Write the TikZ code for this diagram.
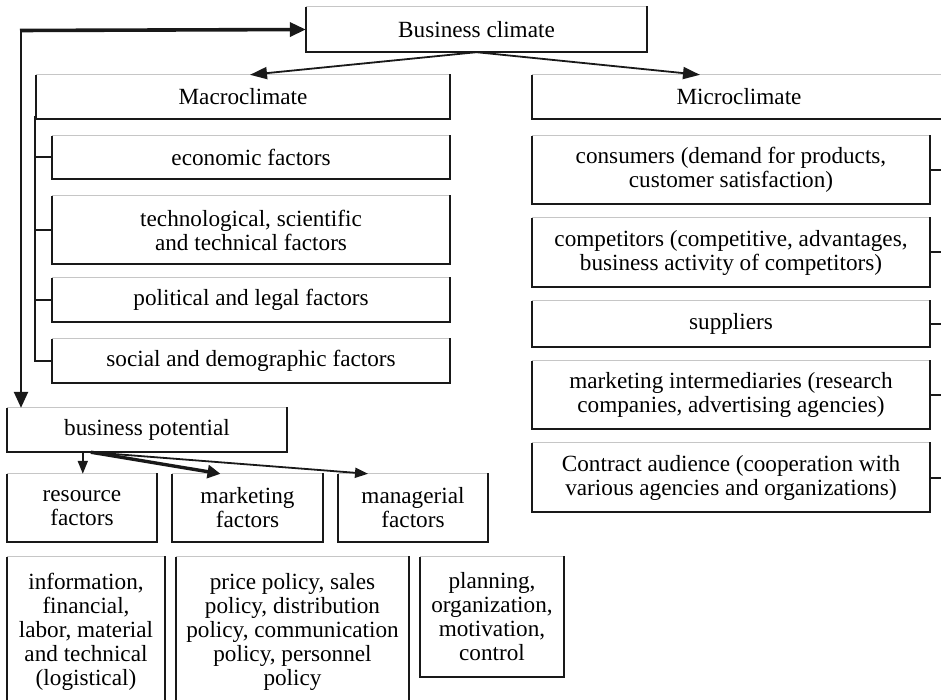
\documentclass[tikz,border=0pt]{standalone}
\usepackage{fontspec}
\setmainfont{Liberation Serif}
\usetikzlibrary{arrows.meta}
\newcommand\mkbox[6]{\node[bx, minimum width={#4-#2}, minimum height={#5-#3}] (#1) at ({(#2+#4)/2},{(#3+#5)/2}) {#6};}
\newcommand\edges[1]{%
  \draw[gray!45, line width=1.1pt] (#1.north west) -- (#1.north east);
  \draw[black!90, line width=1.8pt] (#1.north west) -- (#1.south west) -- (#1.south east);
  \draw[black!90, line width=2.3pt, line cap=rect] (#1.south east) -- (#1.north east);}
\begin{document}
\begin{tikzpicture}[x=1pt,y=-1pt,
  bx/.style={inner sep=0pt, align=center, font=\fontsize{23.2}{24}\selectfont},
  tick/.style={black!90, line width=2pt},
  arr/.style={black!90, line width=1.8pt, -{Triangle[length=17pt,width=12pt]}},
  sarr/.style={black!90, line width=1.8pt, -{Triangle[length=13pt,width=10pt]}},
  barr/.style={black!90, line width=3.4pt, -{Triangle[length=13pt,width=13pt]}}]
\useasboundingbox (0,0) rectangle (941,700);
% top level
\mkbox{bc}{306}{7}{647}{52}{Business climate}
\mkbox{mac}{36}{75}{450}{119}{Macroclimate}
\mkbox{mic}{532}{75}{946}{119}{Microclimate}
% macro factors
\mkbox{eco}{52}{136}{450}{179}{economic factors}
\mkbox{tec}{52}{196}{450}{264}{technological, scientific\\and technical factors}
\mkbox{pol}{52}{278}{450}{322}{political and legal factors}
\mkbox{soc}{52}{339}{450}{383}{social and demographic factors}
% micro factors
\mkbox{con}{532}{136}{930}{204}{consumers (demand for products,\\customer satisfaction)}
\mkbox{cmp}{532}{218}{930}{287}{competitors (competitive, advantages,\\business activity of competitors)}
\mkbox{sup}{532}{301}{930}{347}{suppliers}
\mkbox{mki}{532}{361}{930}{429}{marketing intermediaries (research\\companies, advertising agencies)}
\mkbox{cau}{532}{443}{930}{512}{Contract audience (cooperation with\\various agencies and organizations)}
% business potential
\mkbox{bp}{7}{408}{287}{452}{business potential}
\mkbox{res}{7}{474}{157}{542}{resource\\factors}
\mkbox{mkt}{172}{474}{323}{542}{marketing\\factors}
\mkbox{mgr}{338}{474}{488}{542}{managerial\\factors}
\mkbox{inf}{7}{557}{165}{706}{information,\\financial,\\labor, material\\and technical\\(logistical)}
\mkbox{prc}{176}{557}{409}{706}{price policy, sales\\policy, distribution\\policy, communication\\policy, personnel\\policy}
\mkbox{pln}{420}{557}{564}{677}{planning,\\organization,\\motivation,\\control}
\foreach \n in {bc,mac,mic,eco,tec,pol,soc,con,cmp,sup,mki,cau,bp,res,mkt,mgr,inf,prc,pln} {\edges{\n}}
% macro bracket
\coordinate (mbtop) at ([xshift=-1pt,yshift=3pt]mac.south west);
\draw[tick] (mbtop) -- (mbtop |- soc.west) -- (soc.west);
\foreach \n in {eco,tec,pol} {\draw[tick] (mbtop |- \n.west) -- (\n.west);}
% micro ticks
\foreach \n in {con,cmp,sup,mki,cau} {\draw[tick] (\n.east) -- ++(14,0);}
% business climate arrows
\draw[arr] (bc.south) -- ([xshift=7pt]mac.north);
\draw[arr] (bc.south) -- ([xshift=-39pt]mic.north);
% feedback loop
\coordinate (corner) at (21,30.5);
\draw[black!90, line width=3.6pt, -{Triangle[length=16pt,width=14pt]}] ([xshift=-1pt]corner) -- (bc.west);
\draw[black!90, line width=2.4pt, -{Triangle[length=16pt,width=14pt]}] (corner) -- (corner |- bp.north);
% business potential arrows
\coordinate (bps) at ([xshift=76pt]bp.south west);
\coordinate (bps2) at ([xshift=84pt]bp.south west);
\draw[sarr] (bps) -- (bps |- res.north);
\draw[barr] (bps2) -- ([xshift=-27pt]mkt.north);
\draw[sarr] (bps2) -- ([xshift=-45pt]mgr.north);
\end{tikzpicture}
\end{document}
